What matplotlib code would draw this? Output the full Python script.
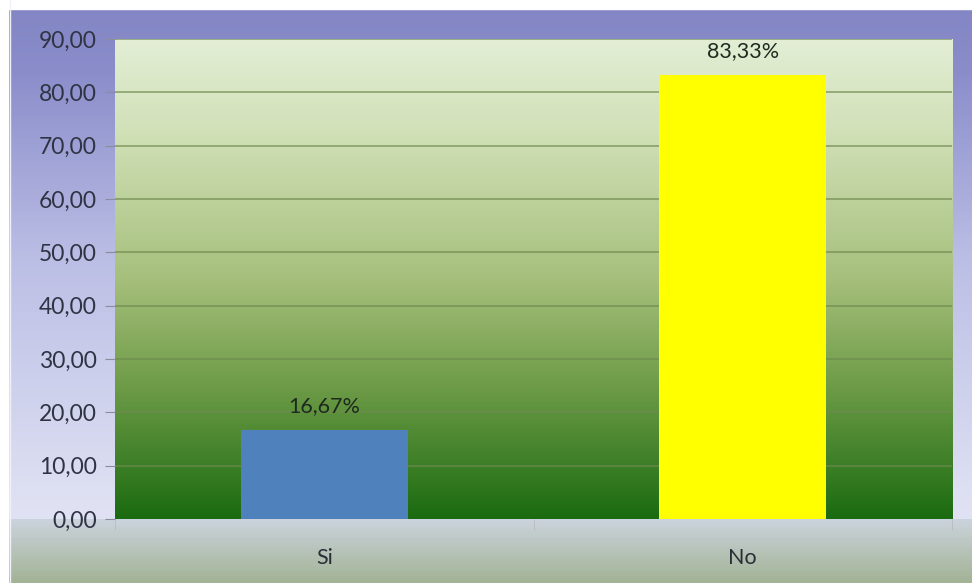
import numpy as np
import matplotlib.pyplot as plt
from matplotlib.colors import LinearSegmentedColormap

categories = ["Si", "No"]
values = [16.67, 83.33]
bar_colors = ["#4f81bd", "#ffff00"]
yticks = [0, 10, 20, 30, 40, 50, 60, 70, 80, 90]

plt.rcParams['font.family'] = ['Lato', 'DejaVu Sans']

W, H = 972, 583
fig = plt.figure(figsize=(W / 100, H / 100), dpi=100)

# outer frame: purple fading to lavender, then grey-green strip under the axis
frame_cmap = LinearSegmentedColormap.from_list("frame", [
    (0.0, "#8385c4"), (0.12, "#8a8dca"), (0.45, "#bcbfe5"),
    (0.89, "#e1e3f4"), (0.893, "#cbd4dd"), (1.0, "#a3b396")])
bg = fig.add_axes([0, 0, 1, 1], zorder=-2)
grad = np.linspace(0, 1, H).reshape(-1, 1)
bg.imshow(frame_cmap(grad), aspect="auto", extent=[0, 1, 0, 1], origin="upper",
          interpolation="nearest")
bg.axhspan(1 - 9 / H, 1, color="white")
bg.axvspan(0, 8 / W, color="white")
bg.axvline(9.5 / W, color="#f0f0f8", lw=1)
bg.set_xlim(0, 1)
bg.set_ylim(0, 1)
bg.axis("off")

ax = fig.add_axes([115 / W, 1 - 519 / H, (952 - 115) / W, (519 - 39) / H])
x = np.arange(len(categories))
ax.set_xlim(-0.5, len(categories) - 0.5)
ax.set_ylim(0, 90)

# plot area: pale green at the top, dark green at the bottom
plot_cmap = LinearSegmentedColormap.from_list("plot", [
    (0.0, "#e3eed5"), (0.2, "#d0e0b6"), (0.5, "#a6bf7c"),
    (0.72, "#6f9c48"), (1.0, "#1b6b10")])
ax.imshow(plot_cmap(np.linspace(0, 1, 512).reshape(-1, 1)), aspect="auto",
          extent=[-0.5, len(categories) - 0.5, 0, 90], origin="upper", zorder=0)

for t in yticks[1:]:
    ax.axhline(t, color="#6f8a50", lw=1.2, alpha=0.75, zorder=1)

bars = ax.bar(x, values, width=0.4, color=bar_colors, zorder=2)
for b, v in zip(bars, values):
    ax.annotate(f"{v:.2f}".replace(".", ",") + "%",
                (b.get_x() + b.get_width() / 2, v), xytext=(0, 10),
                textcoords="offset points", ha="center", va="bottom",
                fontsize=15.5, color="#1e2a1e")

ax.set_yticks(yticks)
ax.set_yticklabels([f"{t:.2f}".replace(".", ",") for t in yticks],
                   fontsize=16.5, color="#2f3444")
ax.tick_params(axis="y", length=7, color="#8c8c9c", pad=6)

ax.set_xticks(x)
ax.set_xticklabels(categories, fontsize=15.5, color="#2a2e36")
ax.set_xticks(np.arange(-0.5, len(categories)), minor=True)
ax.tick_params(axis="x", which="major", length=0, pad=21)
ax.tick_params(axis="x", which="minor", length=8, color="#b8bcc4")

for s in ax.spines.values():
    s.set_visible(False)

fig.savefig("out.png", dpi=100)
